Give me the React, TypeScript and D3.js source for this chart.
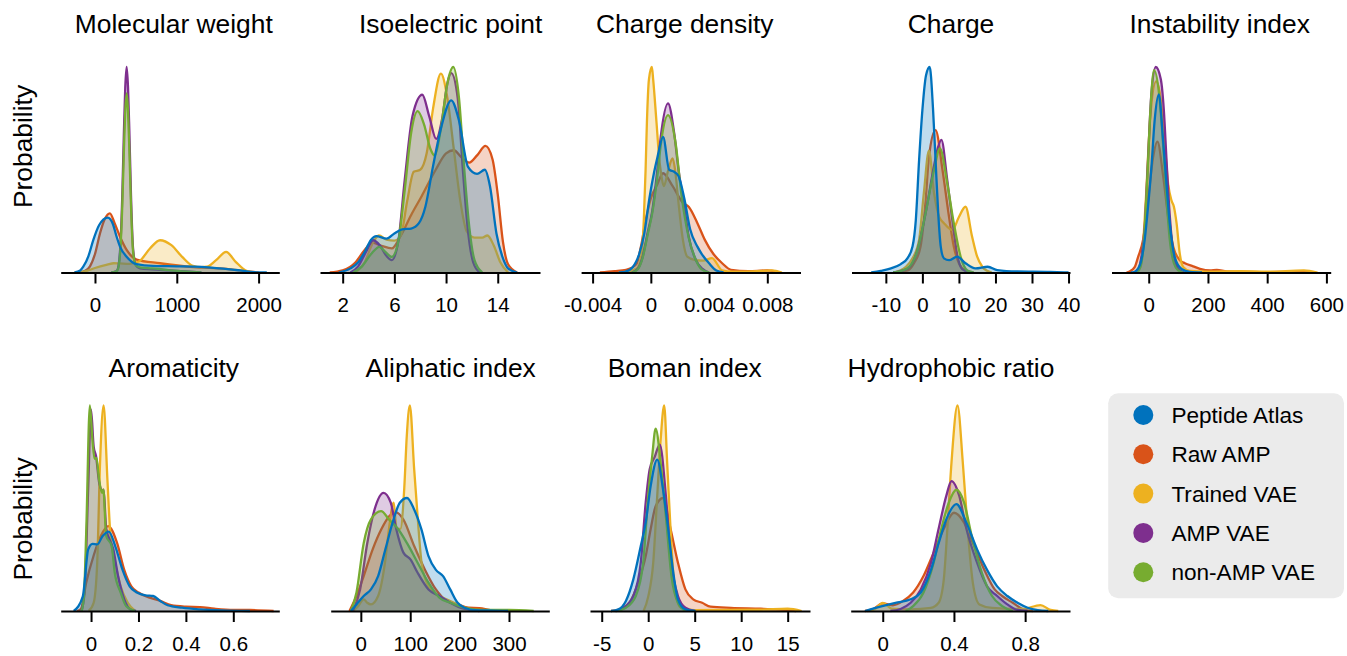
import { useEffect, useRef } from "react";
import * as d3 from "d3";

type Pt = [number, number];

const FONT = "'Liberation Sans', Arial, Helvetica, sans-serif";

const seriesNames = ["Peptide Atlas", "Raw AMP", "Trained VAE", "AMP VAE", "non-AMP VAE"];
const seriesColors = ["#0072BD", "#D95319", "#EDB120", "#7E2F8E", "#77AC30"];

// densities, scaled so the tallest curve of a panel is 1
// Molecular weight
const mwAtlas: Pt[] = [[-250,0],[-180,0.01],[-143,0.028],[-80,0.08],[-21,0.158],[50,0.23],[155,0.267],[220,0.235],[260,0.18],[306,0.126],[387,0.077],[509,0.041],[713,0.032],[1000,0.03],[1300,0.027],[1528,0.02],[1772,0.01],[1950,0.002],[2100,0]];
const mwRaw: Pt[] = [[-200,0],[-120,0.008],[-61,0.03],[0,0.09],[61,0.19],[120,0.26],[182,0.288],[240,0.24],[306,0.174],[387,0.11],[509,0.063],[794,0.045],[1202,0.026],[1610,0.018],[1850,0.006],[2000,0]];
const mwTrained: Pt[] = [[-250,0],[-100,0.008],[0,0.022],[150,0.038],[230,0.045],[300,0.044],[420,0.042],[541,0.055],[672,0.117],[795,0.157],[934,0.133],[1066,0.076],[1197,0.032],[1300,0.026],[1370,0.028],[1480,0.06],[1603,0.1],[1720,0.052],[1851,0.008],[1950,0]];
const mwAmp: Pt[] = [[200,0],[250,0.004],[274,0.012],[309,0.12],[334,0.38],[354,0.69],[370,0.9],[387,1.0],[404,0.9],[420,0.69],[440,0.38],[465,0.12],[500,0.035],[550,0.02],[700,0.015],[900,0.01],[1100,0.005],[1300,0]];
const mwNonAmp: Pt[] = [[200,0],[250,0.004],[274,0.01],[309,0.105],[334,0.33],[354,0.6],[370,0.785],[387,0.872],[404,0.785],[420,0.6],[440,0.33],[465,0.105],[500,0.035],[550,0.025],[700,0.02],[900,0.012],[1100,0.005],[1300,0]];

// Isoelectric point
const isAtlas: Pt[] = [[1.7,0],[2.6,0.02],[3.2,0.05],[3.7,0.1],[4.2,0.16],[4.6,0.177],[5.4,0.165],[6.0,0.19],[6.6,0.21],[7.3,0.214],[7.9,0.24],[8.4,0.32],[9.0,0.52],[9.6,0.7],[10.4,0.838],[11.0,0.74],[11.7,0.514],[12.4,0.48],[13.0,0.5],[13.4,0.42],[13.9,0.19],[14.4,0.07],[14.8,0.02],[15.5,0]];
const isRaw: Pt[] = [[1.0,0],[2.0,0.01],[3.0,0.05],[3.7,0.11],[4.3,0.145],[5.0,0.13],[5.8,0.117],[6.5,0.18],[7.3,0.28],[8.1,0.37],[9.2,0.5],[10.0,0.58],[10.6,0.595],[11.2,0.56],[11.8,0.535],[12.4,0.57],[13.05,0.616],[13.6,0.55],[14.0,0.38],[14.4,0.15],[14.8,0.04],[15.5,0]];
const isTrained: Pt[] = [[3.0,0],[3.7,0.05],[4.3,0.14],[4.8,0.18],[5.4,0.16],[6.0,0.155],[6.5,0.18],[7.0,0.35],[7.5,0.49],[8.0,0.5],[8.5,0.58],[9.0,0.8],[9.6,0.968],[10.1,0.85],[10.6,0.6],[11.1,0.35],[11.6,0.2],[12.2,0.17],[12.8,0.17],[13.2,0.18],[13.7,0.13],[14.2,0.05],[14.8,0]];
const isAmp: Pt[] = [[2.6,0],[3.2,0.03],[3.8,0.1],[4.35,0.157],[4.9,0.13],[5.4,0.08],[5.8,0.06],[6.3,0.15],[6.8,0.45],[7.4,0.76],[8.16,0.865],[8.7,0.76],[9.24,0.65],[9.7,0.75],[10.1,0.92],[10.4,0.97],[10.9,0.85],[11.3,0.5],[11.7,0.2],[12.1,0.05],[12.6,0]];
const isNonAmp: Pt[] = [[2.8,0],[3.5,0.03],[4.2,0.09],[4.85,0.125],[5.3,0.1],[5.8,0.076],[6.3,0.15],[6.8,0.4],[7.3,0.68],[7.8,0.785],[8.3,0.72],[8.8,0.6],[9.1,0.57],[9.6,0.7],[10.1,0.92],[10.56,1.0],[11.0,0.85],[11.4,0.51],[11.8,0.22],[12.2,0.06],[12.8,0]];

// Charge density
const cdAtlas: Pt[] = [[-0.0022,0],[-0.0018,0.003],[-0.00125,0.026],[-0.0008,0.09],[-0.00045,0.19],[-0.0001,0.36],[0.00023,0.49],[0.00045,0.56],[0.00084,0.66],[0.00126,0.5],[0.0016,0.49],[0.0019,0.47],[0.0023,0.36],[0.0027,0.21],[0.0032,0.126],[0.0035,0.09],[0.004,0.045],[0.0045,0.01],[0.005,0]];
const cdRaw: Pt[] = [[-0.0035,0],[-0.0025,0.006],[-0.0017,0.013],[-0.001,0.04],[-0.00068,0.126],[-0.00034,0.26],[0,0.36],[0.00045,0.43],[0.00084,0.483],[0.0015,0.42],[0.0022,0.34],[0.0026,0.32],[0.0032,0.24],[0.0037,0.16],[0.0043,0.09],[0.0049,0.045],[0.0055,0.013],[0.0067,0.006],[0.008,0.01],[0.0089,0]];
const cdTrained: Pt[] = [[-0.0022,0],[-0.0014,0.008],[-0.001,0.02],[-0.00078,0.045],[-0.0006,0.11],[-0.00048,0.26],[-0.00036,0.5],[-0.00027,0.73],[-0.00013,0.94],[0.00007,1.0],[0.00016,0.94],[0.00039,0.73],[0.00057,0.56],[0.00075,0.46],[0.00089,0.42],[0.0012,0.5],[0.0015,0.555],[0.0017,0.48],[0.0019,0.34],[0.0022,0.16],[0.0025,0.077],[0.003,0.062],[0.0036,0.058],[0.0042,0.07],[0.0049,0.01],[0.0056,0.004],[0.007,0.005],[0.0083,0.01],[0.009,0]];
const cdAmp: Pt[] = [[-0.0013,0],[-0.0009,0.018],[-0.00057,0.075],[-0.00023,0.19],[0.0001,0.3],[0.00045,0.5],[0.00068,0.66],[0.00118,0.823],[0.0016,0.68],[0.0019,0.5],[0.0023,0.32],[0.0026,0.175],[0.0031,0.06],[0.0035,0.02],[0.004,0]];
const cdNonAmp: Pt[] = [[-0.0013,0],[-0.0009,0.016],[-0.00057,0.07],[-0.00023,0.18],[0.0001,0.29],[0.00045,0.47],[0.00068,0.62],[0.00118,0.766],[0.0017,0.63],[0.0021,0.38],[0.0026,0.17],[0.0031,0.06],[0.0035,0.015],[0.004,0]];

// Charge
const chAtlas: Pt[] = [[-14,0],[-11.4,0.008],[-8.6,0.02],[-5.9,0.041],[-4.1,0.069],[-2.7,0.126],[-1.8,0.255],[-0.9,0.547],[0,0.79],[1.0,0.96],[2.0,1.0],[2.9,0.8],[3.6,0.55],[4.3,0.3],[5.0,0.13],[5.9,0.069],[7.3,0.06],[9.5,0.077],[11.8,0.045],[14.5,0.02],[17.9,0.028],[20.5,0.012],[26,0.005],[35,0.003],[40,0]];
const chRaw: Pt[] = [[-8,0],[-4,0.01],[-2.3,0.045],[-0.5,0.126],[0.9,0.353],[1.8,0.563],[3.6,0.693],[5.5,0.5],[7.3,0.27],[8.6,0.126],[10,0.045],[11.8,0.01],[14,0]];
const chTrained: Pt[] = [[-8,0],[-4.5,0.028],[-2.7,0.069],[-0.9,0.158],[0.4,0.386],[1.8,0.593],[3.2,0.386],[4.6,0.27],[5.9,0.24],[8.2,0.207],[10,0.27],[11.8,0.32],[13.6,0.175],[15,0.077],[16.4,0.028],[17.7,0.008],[19,0]];
const chAmp: Pt[] = [[-8,0],[-4,0.02],[-1.5,0.1],[1,0.3],[3.2,0.52],[4.3,0.61],[5.2,0.645],[6.8,0.45],[8.2,0.255],[9.5,0.09],[10.9,0.016],[13,0]];
const chNonAmp: Pt[] = [[-8,0],[-4.2,0.02],[-1.5,0.1],[1,0.3],[3.2,0.5],[4.8,0.604],[6.8,0.435],[8.6,0.24],[10.5,0.075],[12.3,0.01],[14,0]];

// Instability index
const inAtlas: Pt[] = [[-60,0],[-47.5,0.004],[-28,0.045],[-13.6,0.16],[-2.3,0.32],[9,0.51],[20,0.74],[34,0.867],[48.7,0.64],[60,0.43],[71,0.24],[88,0.075],[111,0.017],[139,0.003],[180,0]];
const inRaw: Pt[] = [[-75,0],[-64.5,0.005],[-47.5,0.026],[-36,0.075],[-19,0.16],[-2.3,0.35],[14.7,0.56],[29.4,0.637],[48.7,0.47],[65.7,0.27],[82.6,0.126],[105,0.06],[122,0.045],[150,0.03],[173,0.018],[207,0.01],[230,0.013],[264,0.005],[309,0.004],[400,0.002],[468,0.003],[513,0.003],[560,0]];
const inTrained: Pt[] = [[-40,0],[-25,0.05],[-10,0.35],[5,0.75],[25,0.93],[40,0.85],[54,0.63],[65.7,0.43],[77,0.35],[85,0.32],[94,0.24],[105,0.09],[117,0.026],[139,0.008],[200,0.004],[309,0.006],[400,0.004],[524,0.01],[570,0]];
const inAmp: Pt[] = [[-45,0],[-36,0.01],[-25,0.075],[-13.6,0.22],[-2.3,0.55],[9,0.87],[23.8,1.0],[40.8,0.94],[51,0.79],[60,0.55],[69,0.32],[77,0.175],[88,0.06],[105,0.01],[120,0]];
const inNonAmp: Pt[] = [[-40,0],[-28,0.026],[-15.8,0.16],[-4.5,0.47],[5.7,0.79],[18,0.985],[37,0.84],[48.7,0.62],[60,0.36],[71,0.16],[85,0.045],[100,0.01],[115,0]];

// Aromaticity
const arAtlas: Pt[] = [[-0.073,0],[-0.035,0.07],[-0.012,0.3],[0.006,0.327],[0.026,0.324],[0.049,0.365],[0.075,0.386],[0.102,0.316],[0.133,0.2],[0.163,0.12],[0.193,0.09],[0.23,0.076],[0.262,0.073],[0.292,0.049],[0.323,0.028],[0.384,0.016],[0.46,0.008],[0.55,0.003],[0.67,0]];
const arRaw: Pt[] = [[-0.06,0],[-0.043,0.01],[-0.02,0.14],[0.011,0.27],[0.041,0.365],[0.072,0.413],[0.11,0.33],[0.14,0.2],[0.17,0.12],[0.2,0.09],[0.247,0.065],[0.292,0.049],[0.338,0.028],[0.4,0.021],[0.46,0.019],[0.52,0.011],[0.6,0.005],[0.67,0.005],[0.77,0]];
const arTrained: Pt[] = [[-0.01,0],[0.011,0.04],[0.026,0.235],[0.038,0.72],[0.053,1.0],[0.069,0.64],[0.082,0.365],[0.102,0.235],[0.125,0.12],[0.155,0.04],[0.186,0]];
const arAmp: Pt[] = [[-0.04,0],[-0.027,0.1],[-0.012,0.6],[0,0.98],[0.011,0.8],[0.021,0.754],[0.035,0.62],[0.049,0.583],[0.053,0.59],[0.064,0.4],[0.094,0.3],[0.114,0.17],[0.14,0.057],[0.17,0.005],[0.19,0]];
const arNonAmp: Pt[] = [[-0.04,0],[-0.03,0.07],[-0.02,0.4],[-0.005,1.0],[0.006,0.83],[0.015,0.74],[0.023,0.745],[0.034,0.64],[0.046,0.575],[0.052,0.59],[0.064,0.365],[0.087,0.316],[0.1,0.186],[0.125,0.09],[0.148,0.024],[0.186,0]];

// Aliphatic index
const alAtlas: Pt[] = [[-20,0],[-8.8,0.032],[5.8,0.073],[20.5,0.105],[35,0.17],[49.7,0.3],[64.3,0.43],[78.9,0.527],[93.5,0.55],[108,0.494],[122.7,0.397],[137,0.267],[152,0.2],[166.5,0.17],[181,0.105],[196,0.04],[210,0.016],[232,0.004],[269,0.002],[298,0]];
const alRaw: Pt[] = [[-23,0],[-8.8,0.073],[5.8,0.17],[24,0.3],[42,0.4],[57,0.46],[71.6,0.48],[86,0.446],[108,0.316],[130,0.2],[152,0.105],[174,0.049],[196,0.032],[218,0.016],[240,0.014],[269,0]];
const alTrained: Pt[] = [[-16,0],[-5,0.025],[5.8,0.057],[13,0.04],[20.5,0.032],[35,0.073],[49.7,0.25],[57,0.4],[66.5,0.527],[72.5,0.4],[80,0.4],[88,0.6],[93,0.85],[99.3,1.0],[108,0.69],[115,0.46],[123,0.235],[137,0.12],[159,0.073],[181,0.049],[203,0.024],[225,0]];
const alAmp: Pt[] = [[-16,0],[-1.5,0.105],[13,0.33],[27.8,0.494],[46,0.575],[60.6,0.527],[71.6,0.4],[86.2,0.284],[100.8,0.25],[115,0.186],[137,0.105],[159,0.073],[181,0.04],[203,0.015],[240,0]];
const alNonAmp: Pt[] = [[-20,0],[-8.8,0.09],[5.8,0.33],[20.5,0.446],[41,0.486],[57,0.446],[75,0.4],[93.5,0.33],[115,0.235],[137,0.138],[159,0.065],[181,0.04],[210,0.016],[247,0.005],[300,0.005],[350,0]];

// Boman index
const boAtlas: Pt[] = [[-4,0],[-3.2,0.008],[-2.4,0.049],[-1.6,0.154],[-0.8,0.316],[-0.27,0.43],[0.27,0.61],[0.97,0.737],[1.6,0.59],[2.15,0.4],[2.7,0.186],[3.2,0.057],[4,0.008],[5.1,0]];
const boRaw: Pt[] = [[-4,0],[-3,0.01],[-1.9,0.049],[-1.08,0.138],[-0.27,0.267],[0.27,0.4],[0.8,0.51],[1.6,0.55],[2.4,0.4],[3.2,0.235],[4,0.105],[4.84,0.057],[5.8,0.04],[6.7,0.021],[8.9,0.015],[12.1,0.011],[13.7,0.008],[15.9,0]];
const boTrained: Pt[] = [[-0.5,0],[0,0.07],[0.54,0.235],[0.97,0.56],[1.34,0.835],[1.72,1.0],[2.04,0.72],[2.4,0.4],[2.85,0.105],[3.5,0.016],[5,0.004],[12,0.006],[15,0.011],[16.5,0]];
const boAmp: Pt[] = [[-3.5,0],[-2.7,0.012],[-1.6,0.073],[-0.8,0.235],[-0.27,0.527],[0.16,0.69],[0.7,0.75],[1.24,0.81],[1.9,0.56],[2.4,0.267],[3.2,0.073],[4,0.016],[5,0]];
const boNonAmp: Pt[] = [[-3.5,0],[-2.4,0.016],[-1.34,0.073],[-0.54,0.235],[0,0.56],[0.43,0.754],[0.8,0.887],[1.34,0.72],[1.9,0.46],[2.5,0.17],[3.2,0.04],[4,0]];

// Hydrophobic ratio
const hyAtlas: Pt[] = [[-0.1,0],[-0.014,0.021],[0.071,0.04],[0.157,0.057],[0.214,0.09],[0.271,0.2],[0.314,0.33],[0.357,0.446],[0.414,0.52],[0.47,0.43],[0.53,0.3],[0.586,0.2],[0.643,0.12],[0.7,0.073],[0.757,0.04],[0.814,0.016],[0.871,0.004],[0.93,0]];
const hyRaw: Pt[] = [[-0.1,0],[-0.057,0.008],[0,0.037],[0.057,0.028],[0.114,0.049],[0.171,0.09],[0.229,0.17],[0.286,0.284],[0.343,0.4],[0.4,0.478],[0.457,0.43],[0.514,0.316],[0.571,0.2],[0.629,0.105],[0.671,0.073],[0.73,0.04],[0.786,0.01],[0.843,0]];
const hyTrained: Pt[] = [[-0.086,0],[-0.043,0.01],[0,0.04],[0.05,0.012],[0.157,0.008],[0.27,0.015],[0.314,0.04],[0.343,0.154],[0.363,0.4],[0.386,0.72],[0.42,1.0],[0.45,0.72],[0.477,0.4],[0.506,0.138],[0.543,0.032],[0.614,0.015],[0.786,0.01],[0.886,0.029],[0.943,0.005],[0.986,0]];
const hyAmp: Pt[] = [[0.043,0],[0.1,0.01],[0.157,0.04],[0.214,0.105],[0.271,0.235],[0.314,0.4],[0.357,0.56],[0.386,0.632],[0.43,0.56],[0.47,0.4],[0.53,0.235],[0.586,0.12],[0.643,0.073],[0.7,0.032],[0.757,0.005],[0.814,0]];
const hyNonAmp: Pt[] = [[0.129,0],[0.171,0.024],[0.229,0.09],[0.286,0.235],[0.329,0.4],[0.371,0.527],[0.414,0.59],[0.457,0.527],[0.5,0.365],[0.557,0.186],[0.614,0.073],[0.671,0.024],[0.73,0]];

const panelTitles = ["Molecular weight", "Isoelectric point", "Charge density", "Charge", "Instability index",
  "Aromaticity", "Aliphatic index", "Boman index", "Hydrophobic ratio"];
const panelDomains: [number, number][] = [[-419, 2253], [0.245, 17.27], [-0.00479, 0.01028], [-19.4, 40.4], [-125.7, 614.5],
  [-0.128, 0.794], [-61, 381.6], [-6.26, 17.4], [-0.18, 1.052]];
const panelTicks = [[0, 1000, 2000], [2, 6, 10, 14], [-0.004, 0, 0.004, 0.008], [-10, 0, 10, 20, 30, 40], [0, 200, 400, 600],
  [0, 0.2, 0.4, 0.6], [0, 100, 200, 300], [-5, 0, 5, 10, 15], [0, 0.4, 0.8]];
const panelTickLabels = [["0", "1000", "2000"], ["2", "6", "10", "14"], ["-0.004", "0", "0.004", "0.008"],
  ["-10", "0", "10", "20", "30", "40"], ["0", "200", "400", "600"], ["0", "0.2", "0.4", "0.6"],
  ["0", "100", "200", "300"], ["-5", "0", "5", "10", "15"], ["0", "0.4", "0.8"]];
const panelCurves: Pt[][][] = [
  [mwAtlas, mwRaw, mwTrained, mwAmp, mwNonAmp],
  [isAtlas, isRaw, isTrained, isAmp, isNonAmp],
  [cdAtlas, cdRaw, cdTrained, cdAmp, cdNonAmp],
  [chAtlas, chRaw, chTrained, chAmp, chNonAmp],
  [inAtlas, inRaw, inTrained, inAmp, inNonAmp],
  [arAtlas, arRaw, arTrained, arAmp, arNonAmp],
  [alAtlas, alRaw, alTrained, alAmp, alNonAmp],
  [boAtlas, boRaw, boTrained, boAmp, boNonAmp],
  [hyAtlas, hyRaw, hyTrained, hyAmp, hyNonAmp],
];

// layout (pixels)
const panelSpan: [number, number][] = [[60.7, 279.3], [320, 540], [581.1, 800.5], [851.5, 1070], [1111.5, 1330.7],
  [60.7, 279.3], [330.7, 549.3], [590, 810], [850.7, 1070]];
const rowBaseline = [272.5, 611];
const peakHeight = 205.5;
const titleX = [173.8, 450.7, 684.8, 951, 1219.7];
const titleY = [33.3, 377.3];
// raw, trained, amp, non-amp, atlas: later fills sit over earlier lines
const drawOrder = [1, 2, 3, 4, 0];

function Panel({ i }: { i: number }) {
  const axisRef = useRef<SVGGElement>(null);
  const row = i < 5 ? 0 : 1;
  const base = rowBaseline[row];
  const x = d3.scaleLinear().domain(panelDomains[i]).range(panelSpan[i]);
  const y = d3.scaleLinear().domain([0, 1]).range([base, base - peakHeight]);

  useEffect(() => {
    const labels = panelTickLabels[i];
    const axis = d3.axisBottom(x)
      .tickValues(panelTicks[i])
      .tickFormat((_d, k) => labels[k])
      .tickSize(11)
      .tickSizeOuter(0)
      .tickPadding(14);
    const g = d3.select(axisRef.current!).call(axis as any);
    g.select(".domain").attr("stroke-width", 2);
    g.selectAll(".tick line").attr("stroke-width", 2);
    g.selectAll(".tick text")
      .attr("font-size", 20.5)
      .attr("font-family", FONT)
      .attr("fill", "#000");
  }, []);

  const area = d3.area<Pt>().x(d => x(d[0])).y0(base).y1(d => y(d[1])).curve(d3.curveMonotoneX);
  const line = d3.line<Pt>().x(d => x(d[0])).y(d => y(d[1])).curve(d3.curveMonotoneX);

  return (
    <g>
      {drawOrder.map(s => (
        <g key={s}>
          <path d={area(panelCurves[i][s]) || ""} fill={seriesColors[s]} fillOpacity={0.25} />
          <path d={line(panelCurves[i][s]) || ""} fill="none" stroke={seriesColors[s]} strokeWidth={2.3} strokeLinejoin="round" />
        </g>
      ))}
      <g ref={axisRef} transform={`translate(0,${base})`} />
      <text x={titleX[i % 5]} y={titleY[row]} textAnchor="middle" fontSize={26.4} fontFamily={FONT}>
        {panelTitles[i]}
      </text>
    </g>
  );
}

export default function App() {
  return (
    <div style={{ position: "absolute", left: 0, top: 0 }}>
      <svg width={1347} height={656} style={{ display: "block", background: "#fff" }}>
        {panelTitles.map((_t, i) => <Panel key={i} i={i} />)}
        {[146.5, 519].map((cy, r) => (
          <text key={r} transform={`translate(32,${cy}) rotate(-90)`} textAnchor="middle" fontSize={26.4} fontFamily={FONT}>
            Probability
          </text>
        ))}
        <g>
          <rect x={1108.2} y={393.3} width={235.8} height={205} rx={10} fill="#ebebeb" />
          {seriesNames.map((name, k) => (
            <g key={name} transform={`translate(0,${415 + k * 39.3})`}>
              <circle cx={1143.3} cy={0} r={10} fill={seriesColors[k]} />
              <text x={1171.4} y={8} fontSize={22.6} fontFamily={FONT}>{name}</text>
            </g>
          ))}
        </g>
      </svg>
    </div>
  );
}
